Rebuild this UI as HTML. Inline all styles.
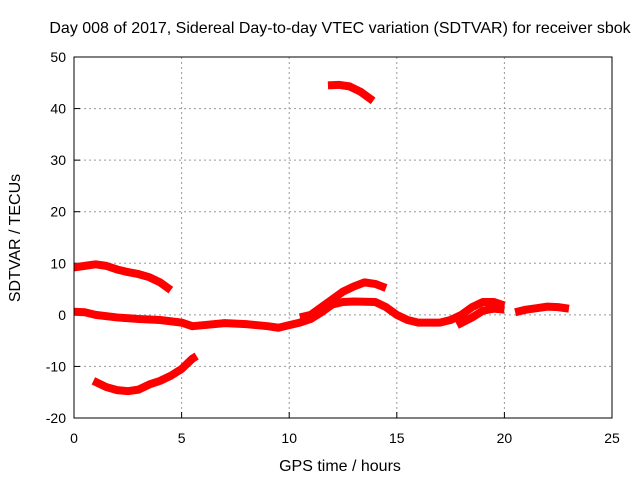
<!DOCTYPE html>
<html><head><meta charset="utf-8"><style>
body{margin:0;background:#fff}
svg{display:block;font-family:"Liberation Sans",sans-serif}
</style></head><body>
<svg id="chart" width="640" height="480">
<text x="340" y="33" text-anchor="middle" font-size="16">Day 008 of 2017, Sidereal Day-to-day VTEC variation (SDTVAR) for receiver sbok</text>
<text x="340" y="471" text-anchor="middle" font-size="16">GPS time / hours</text>
<text transform="translate(20,238) rotate(-90)" text-anchor="middle" font-size="16">SDTVAR / TECUs</text>
<g id="grid"></g><g id="series"></g>
<rect x="74" y="57" width="538" height="361" fill="none" stroke="#000"/>
</svg>
<script>
const xTicks=[0,5,10,15,20,25];
const yTicks=[-20,-10,0,10,20,30,40,50];
const seriesUpperArc=[[0,9.2],[0.5,9.5],[1,9.8],[1.5,9.5],[2,8.8],[2.5,8.3],[3,7.9],[3.5,7.3],[4,6.3],[4.5,4.8]];
const seriesMain=[[0,0.6],[0.5,0.5],[1,0],[2,-0.5],[3,-0.8],[4,-1],[5,-1.5],[5.5,-2.2],[6,-2],[7,-1.6],[8,-1.8],[9,-2.2],[9.5,-2.5],[10,-2],[10.5,-1.5],[11,-0.8],[11.5,0.5],[12,2],[12.5,2.5],[13,2.6],[14,2.5],[14.5,1.5],[15,0],[15.5,-1],[16,-1.5],[17,-1.5],[17.5,-1],[18,0],[18.5,1.5],[19,2.5],[19.5,2.5],[20,1.8]];
const seriesUpperBranch=[[10.5,-0.5],[11,0],[11.5,1.5],[12,3],[12.5,4.5],[13,5.5],[13.5,6.3],[14,6],[14.5,5.2]];
const seriesLowerBranch=[[17.8,-2],[18.5,-0.5],[19,0.8],[19.5,1.2],[20,1]];
const seriesLate=[[20.5,0.5],[21,1],[21.5,1.3],[22,1.6],[22.5,1.5],[23,1.2]];
const seriesLowerArc=[[0.9,-12.8],[1.5,-14],[2,-14.6],[2.5,-14.8],[3,-14.5],[3.5,-13.5],[4,-12.8],[4.5,-11.8],[5,-10.5],[5.5,-8.5],[5.7,-8]];
const seriesTop=[[11.8,44.5],[12.3,44.6],[12.8,44.3],[13.3,43.3],[13.9,41.5]];
const X=v=>74+v*538/25, Y=v=>418-(v+20)*361/70;
const NS="http://www.w3.org/2000/svg";
const grid=document.getElementById('grid'), ser=document.getElementById('series');
function mk(t,a,p){const e=document.createElementNS(NS,t);for(const k in a)e.setAttribute(k,a[k]);p.appendChild(e);return e;}
xTicks.forEach(t=>{
 if(t>0&&t<25){const l=mk('line',{x1:X(t),x2:X(t),y1:57,y2:418,stroke:'#999','stroke-dasharray':'2,3'},grid);
 
 }
 const tk=mk('line',{x1:X(t),x2:X(t),y1:418,y2:412,stroke:'#000'},grid);
 
 
 const tx=mk('text',{x:X(t),y:443,'text-anchor':'middle','font-size':14},grid);tx.textContent=t;
 
 
});
yTicks.forEach(t=>{
 if(t>-20&&t<50){const l=mk('line',{x1:74,x2:612,y1:Y(t),y2:Y(t),stroke:'#999','stroke-dasharray':'2,3'},grid);
 
 }
 const tk=mk('line',{x1:74,x2:80,y1:Y(t),y2:Y(t),stroke:'#000'},grid);
 
 
 const tx=mk('text',{x:66,y:Y(t)+5,'text-anchor':'end','font-size':14},grid);tx.textContent=t;
 
 
});
[[seriesUpperArc,'series-upper-arc'],[seriesMain,'series-main'],[seriesUpperBranch,'series-upper-branch'],[seriesLowerBranch,'series-lower-branch'],[seriesLate,'series-late'],[seriesLowerArc,'series-lower-arc'],[seriesTop,'series-top']].forEach(([d,n])=>{
 const p=mk('polyline',{points:d.map(q=>X(q[0])+','+Y(q[1])).join(' '),fill:'none',stroke:'#f00','stroke-width':8,'stroke-linejoin':'round'},ser);
 
 
});
</script>
</body></html>
